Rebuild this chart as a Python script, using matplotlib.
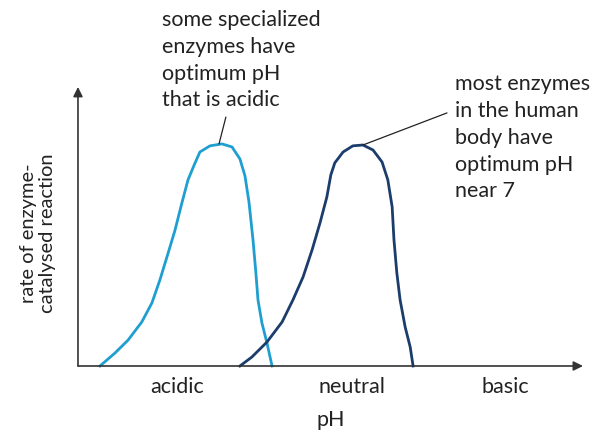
import matplotlib
matplotlib.use('Agg')
import matplotlib.pyplot as plt

# curves (x in pH-ish units 0..14, y as fraction of axis height)
acid_x = [0.61, 1.03, 1.39, 1.77, 2.05, 2.27, 2.50, 2.69, 2.88, 3.05, 3.22, 3.38,
          3.66, 3.99, 4.27, 4.49, 4.63, 4.74, 4.85, 4.93, 4.99, 5.10, 5.24, 5.38]
acid_y = [0.0, 0.047, 0.093, 0.158, 0.226, 0.308, 0.405, 0.487, 0.584, 0.667, 0.720, 0.767,
          0.789, 0.796, 0.785, 0.742, 0.681, 0.588, 0.455, 0.337, 0.237, 0.154, 0.082, 0.0]

neutral_x = [4.49, 4.82, 5.24, 5.66, 5.96, 6.24, 6.49, 6.71, 6.90, 7.01, 7.12, 7.35,
             7.62, 7.90, 8.18, 8.43, 8.59, 8.71, 8.76, 8.84, 8.93, 9.07, 9.21, 9.29]
neutral_y = [0.0, 0.032, 0.086, 0.158, 0.237, 0.319, 0.416, 0.513, 0.606, 0.685, 0.728, 0.767,
             0.789, 0.792, 0.774, 0.731, 0.667, 0.570, 0.452, 0.333, 0.237, 0.140, 0.068, 0.0]

tick_pos = [2.75, 7.6, 11.85]
tick_labels = ['acidic', 'neutral', 'basic']

note_acid = 'some specialized\nenzymes have\noptimum pH\nthat is acidic'
note_neutral = 'most enzymes\nin the human\nbody have\noptimum pH\nnear 7'

plt.rcParams['font.family'] = ['Lato', 'DejaVu Sans']
fs = 15.5
txt = '#222222'

fig = plt.figure(figsize=(5.93, 4.34), dpi=100)
ax = fig.add_axes([0.1315, 0.1567, 0.8516, 0.6429])
ax.set_xlim(0, 14)
ax.set_ylim(0, 1)
for s in ax.spines.values():
    s.set_visible(False)
ax.set_yticks([])
ax.set_xticks(tick_pos, tick_labels)
ax.tick_params(axis='x', length=0, pad=8, labelsize=fs, labelcolor=txt)
ax.set_xlabel('pH', fontsize=fs, color=txt, labelpad=9)

# axes arrows
arrow = dict(arrowstyle='-|>', color='#333333', lw=1.2, mutation_scale=14,
             shrinkA=0, shrinkB=0)
ax.annotate('', xy=(1, 0), xytext=(0, 0), xycoords='axes fraction',
            textcoords='axes fraction', arrowprops=arrow, annotation_clip=False)
ax.annotate('', xy=(0, 1), xytext=(0, 0), xycoords='axes fraction',
            textcoords='axes fraction', arrowprops=arrow, annotation_clip=False)

ax.plot(acid_x, acid_y, color='#1f9fd0', lw=2.0, solid_joinstyle='round', clip_on=False)
ax.plot(neutral_x, neutral_y, color='#1b3d6c', lw=2.0, solid_joinstyle='round', clip_on=False)

ax.text(-0.079, 0.477, 'rate of enzyme-\ncatalysed reaction', transform=ax.transAxes,
        rotation=90, ha='center', va='center', ma='center', fontsize=14.5, color=txt,
        linespacing=1.1)

# annotations with leader lines to the peaks
i = acid_y.index(max(acid_y))
ax.annotate('', xy=(acid_x[i] - 0.08, acid_y[i]), xytext=(4.10, 0.892),
            arrowprops=dict(arrowstyle='-', color='#222222', lw=0.9, shrinkA=0, shrinkB=0))
ax.text(2.33, 1.275, note_acid, fontsize=fs, color=txt, ha='left', va='top',
        linespacing=1.42)

j = neutral_y.index(max(neutral_y))
ax.annotate('', xy=(neutral_x[j], neutral_y[j]), xytext=(10.23, 0.907),
            arrowprops=dict(arrowstyle='-', color='#222222', lw=0.9, shrinkA=0, shrinkB=0))
ax.text(10.45, 1.045, note_neutral, fontsize=fs, color=txt, ha='left', va='top',
        linespacing=1.42)

fig.savefig('out.png', dpi=100)
